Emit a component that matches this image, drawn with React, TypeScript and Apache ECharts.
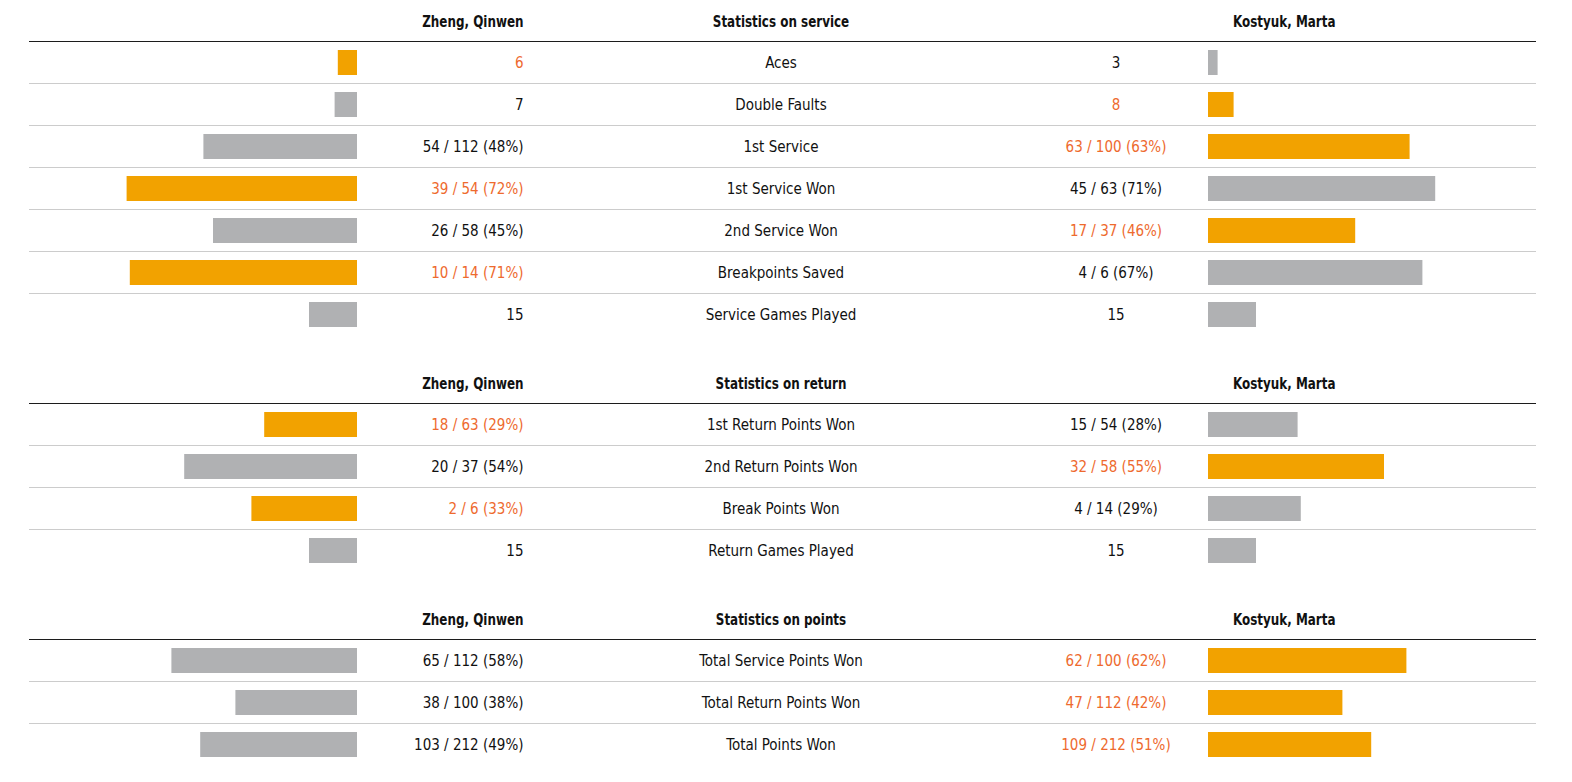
import React, { useEffect, useRef } from "react";
import * as echarts from "echarts";

// ---------- data ----------
const playerLeft = "Zheng, Qinwen";
const playerRight = "Kostyuk, Marta";
const sectionTitles = ["Statistics on service", "Statistics on return", "Statistics on points"];

const serviceStats = ["Aces", "Double Faults", "1st Service", "1st Service Won", "2nd Service Won", "Breakpoints Saved", "Service Games Played"];
const serviceLeftWon = [6, 7, 54, 39, 26, 10, 15];
const serviceLeftTotal = [null, null, 112, 54, 58, 14, null];
const serviceRightWon = [3, 8, 63, 45, 17, 4, 15];
const serviceRightTotal = [null, null, 100, 63, 37, 6, null];

const returnStats = ["1st Return Points Won", "2nd Return Points Won", "Break Points Won", "Return Games Played"];
const returnLeftWon = [18, 20, 2, 15];
const returnLeftTotal = [63, 37, 6, null];
const returnRightWon = [15, 32, 4, 15];
const returnRightTotal = [54, 58, 14, null];

const pointsStats = ["Total Service Points Won", "Total Return Points Won", "Total Points Won"];
const pointsLeftWon = [65, 38, 103];
const pointsLeftTotal = [112, 100, 212];
const pointsRightWon = [62, 47, 109];
const pointsRightTotal = [100, 112, 212];

// ---------- style / layout ----------
const FONT = "'DejaVu Sans Condensed', 'Roboto Condensed', Roboto, sans-serif";
const BODY_SIZE = 15;
const HEAD_SIZE = 16;
const HEAD_SCALE_X = 0.83;
const ORANGE_BAR = "#F2A200";
const GRAY_BAR = "#B0B1B3";
const ORANGE_TEXT = "#EE6A2E";
const DARK_TEXT = "#111111";
const LINE_X0 = 29;
const LINE_X1 = 1536;
const ROW_H = 42;
const SECTION_LINE_Y = [41.5, 403.5, 639.5];
const LEFT_BAR_X = 37;
const RIGHT_BAR_X = 1208;
const BAR_SPAN = 320;
const LEFT_VALUE_X = 523.5;
const CENTER_X = 781;
const RIGHT_VALUE_X = 1116;
const RIGHT_HEADER_X = 1233;

type Sec = { title: string; stats: string[]; lw: number[]; lt: (number | null)[]; rw: number[]; rt: (number | null)[] };
const sections: Sec[] = [
  { title: sectionTitles[0], stats: serviceStats, lw: serviceLeftWon, lt: serviceLeftTotal, rw: serviceRightWon, rt: serviceRightTotal },
  { title: sectionTitles[1], stats: returnStats, lw: returnLeftWon, lt: returnLeftTotal, rw: returnRightWon, rt: returnRightTotal },
  { title: sectionTitles[2], stats: pointsStats, lw: pointsLeftWon, lt: pointsLeftTotal, rw: pointsRightWon, rt: pointsRightTotal },
];

const barValue = (won: number, total: number | null) => (total == null ? won : Math.round((won / total) * 100));
const labelOf = (won: number, total: number | null) =>
  total == null ? String(won) : `${won} / ${total} (${Math.round((won / total) * 100)}%)`;

export default function App() {
  const ref = useRef<HTMLDivElement>(null);
  useEffect(() => {
    if (!ref.current) return;
    const chart = echarts.init(ref.current, null, { renderer: "svg" });
    const grid: any[] = [];
    const xAxis: any[] = [];
    const yAxis: any[] = [];
    const series: any[] = [];
    const graphic: any[] = [];
    const rich = {
      o: { color: ORANGE_TEXT, fontFamily: FONT, fontSize: BODY_SIZE },
      n: { color: DARK_TEXT, fontFamily: FONT, fontSize: BODY_SIZE },
    };

    sections.forEach((s, si) => {
      const top = SECTION_LINE_Y[si];
      const n = s.stats.length;
      const lv = s.stats.map((_, i) => barValue(s.lw[i], s.lt[i]));
      const rv = s.stats.map((_, i) => barValue(s.rw[i], s.rt[i]));
      const lLabels = s.stats.map((_, i) => labelOf(s.lw[i], s.lt[i]));
      const rLabels = s.stats.map((_, i) => labelOf(s.rw[i], s.rt[i]));
      const lHi = lv.map((v, i) => v > rv[i]);
      const rHi = rv.map((v, i) => v > lv[i]);

      const gL = grid.length;
      grid.push({ left: LEFT_BAR_X, top, width: BAR_SPAN, height: ROW_H * n });
      grid.push({ left: RIGHT_BAR_X, top, width: BAR_SPAN, height: ROW_H * n });

      const xL = xAxis.length;
      xAxis.push({ type: "value", gridIndex: gL, min: 0, max: 100, inverse: true, show: false });
      xAxis.push({ type: "value", gridIndex: gL + 1, min: 0, max: 100, show: false });

      const hidden = { axisLine: { show: false }, axisTick: { show: false }, splitLine: { show: false } };
      const yL = yAxis.length;
      yAxis.push({
        type: "category", gridIndex: gL, data: s.stats, inverse: true, position: "right", ...hidden,
        axisLabel: {
          interval: 0, margin: LEFT_VALUE_X - (LEFT_BAR_X + BAR_SPAN), align: "right",
          fontFamily: FONT, fontSize: BODY_SIZE,
          formatter: (_v: string, i: number) => (lHi[i] ? `{o|${lLabels[i]}}` : `{n|${lLabels[i]}}`),
          rich,
        },
      });
      yAxis.push({
        type: "category", gridIndex: gL + 1, data: s.stats, inverse: true, position: "left", ...hidden,
        axisLabel: {
          interval: 0, margin: RIGHT_BAR_X - RIGHT_VALUE_X, align: "center",
          fontFamily: FONT, fontSize: BODY_SIZE,
          formatter: (_v: string, i: number) => (rHi[i] ? `{o|${rLabels[i]}}` : `{n|${rLabels[i]}}`),
          rich,
        },
      });
      yAxis.push({
        type: "category", gridIndex: gL + 1, data: s.stats, inverse: true, position: "left", offset: 0, ...hidden,
        axisLabel: {
          interval: 0, margin: RIGHT_BAR_X - CENTER_X, align: "center",
          fontFamily: FONT, fontSize: BODY_SIZE, color: DARK_TEXT,
        },
      });

      series.push({
        type: "bar", xAxisIndex: xL, yAxisIndex: yL, barWidth: 25,
        data: lv.map((v, i) => ({ value: v, itemStyle: { color: lHi[i] ? ORANGE_BAR : GRAY_BAR } })),
      });
      series.push({
        type: "bar", xAxisIndex: xL + 1, yAxisIndex: yL + 1, barWidth: 25,
        data: rv.map((v, i) => ({ value: v, itemStyle: { color: rHi[i] ? ORANGE_BAR : GRAY_BAR } })),
      });

      // header texts
      const hy = top - 20;
      const hfont = `bold ${HEAD_SIZE}px ${FONT}`;
      const head = (x: number, text: string, align: string) => ({
        type: "text", x, y: hy, scaleX: HEAD_SCALE_X,
        style: { text, font: hfont, fill: DARK_TEXT, align, verticalAlign: "middle" },
      });
      graphic.push(head(LEFT_VALUE_X, playerLeft, "right"));
      graphic.push(head(CENTER_X, s.title, "center"));
      graphic.push(head(RIGHT_HEADER_X, playerRight, "left"));
      // header rule + row separators
      graphic.push({ type: "line", shape: { x1: LINE_X0, y1: top, x2: LINE_X1, y2: top }, style: { stroke: "#1c1c1c", lineWidth: 1 } });
      for (let k = 1; k < n; k++) {
        const y = top + ROW_H * k;
        graphic.push({ type: "line", shape: { x1: LINE_X0, y1: y, x2: LINE_X1, y2: y }, style: { stroke: "#cccccc", lineWidth: 1 } });
      }
    });

    chart.setOption({
      animation: false,
      backgroundColor: "#ffffff",
      grid, xAxis, yAxis, series, graphic,
    });
    return () => chart.dispose();
  }, []);
  return <div ref={ref} style={{ position: "fixed", left: 0, top: 0, width: 1572, height: 782 }} />;
}
